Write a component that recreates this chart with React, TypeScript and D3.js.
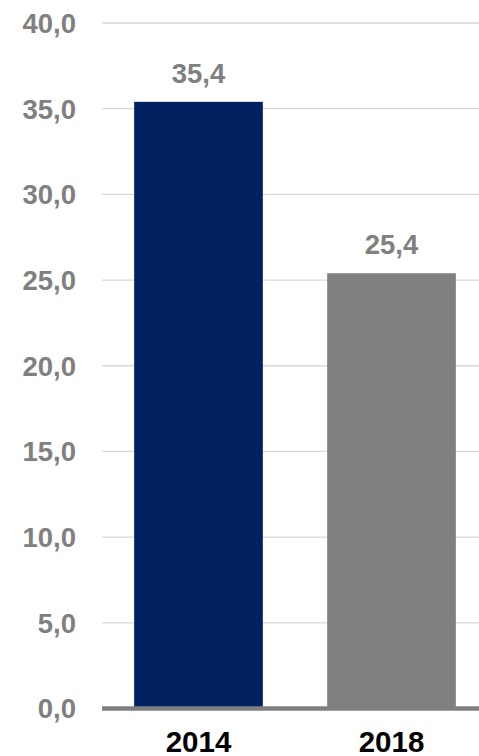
import React from "react";
import * as d3 from "d3";

const categories = ["2014", "2018"];
const values = [35.4, 25.4];
const barColors = ["#002060", "#808080"];
const yTicks = [0, 5, 10, 15, 20, 25, 30, 35, 40];

const W = 479;
const H = 756;

export default function App() {
  const y = d3.scaleLinear().domain([0, 40]).range([708.5, 23]);
  const x = d3
    .scaleBand<string>()
    .domain(categories)
    .range([102, 488])
    .paddingInner(1 / 3)
    .paddingOuter(1 / 6);
  const fmt = (v: number) => v.toFixed(1).replace(".", ",");
  const font = "'Liberation Sans', Arial, sans-serif";
  return (
    <svg
      width={W}
      height={H}
      style={{ position: "absolute", left: 0, top: 0 }}
      fontFamily={font}
    >
      {yTicks.map((t) => (
        <g key={t}>
          {t > 0 && (
            <line x1={102} x2={W} y1={y(t)} y2={y(t)} stroke="#d9d9d9" strokeWidth={1.3} />
          )}
          <text
            x={76}
            y={y(t)}
            dy="0.36em"
            textAnchor="end"
            fontSize={27.5}
            fontWeight="bold"
            fill="#808080"
          >
            {fmt(t)}
          </text>
        </g>
      ))}
      {categories.map((c, i) => (
        <g key={c}>
          <rect
            x={x(c)}
            y={y(values[i])}
            width={x.bandwidth()}
            height={y(0) - y(values[i])}
            fill={barColors[i]}
          />
          <text
            x={(x(c) as number) + x.bandwidth() / 2}
            y={y(values[i]) - 19}
            textAnchor="middle"
            fontSize={27.5}
            fontWeight="bold"
            fill="#808080"
          >
            {fmt(values[i])}
          </text>
          <text
            x={(x(c) as number) + x.bandwidth() / 2}
            y={752}
            textAnchor="middle"
            fontSize={29.5}
            fontWeight="bold"
            fill="#000000"
          >
            {c}
          </text>
        </g>
      ))}
      <line x1={102} x2={W} y1={y(0)} y2={y(0)} stroke="#808080" strokeWidth={4.5} />
    </svg>
  );
}
